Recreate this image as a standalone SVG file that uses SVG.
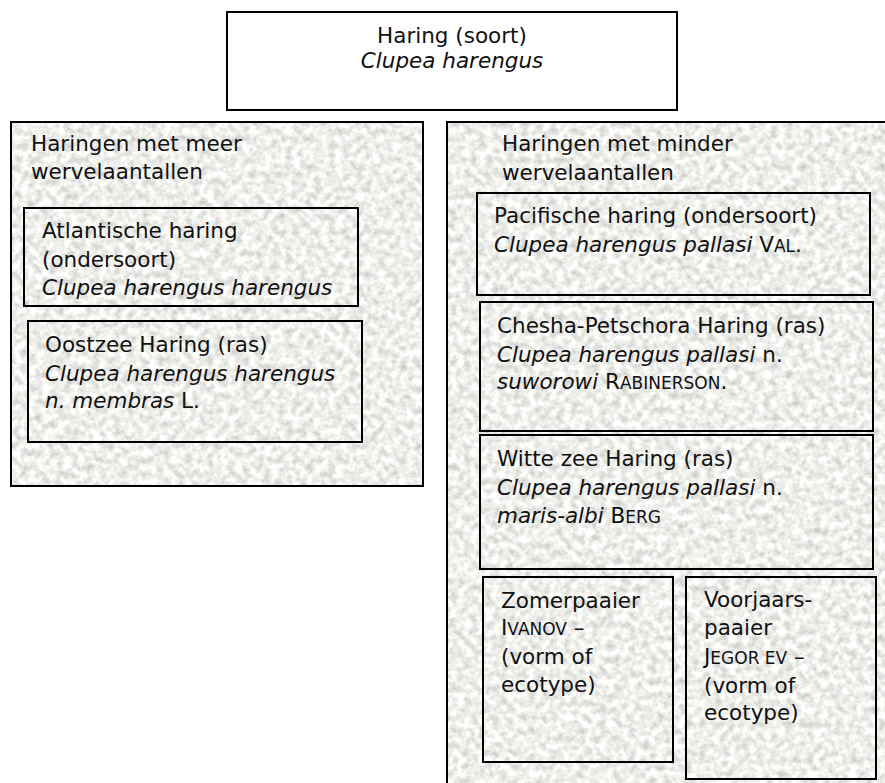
<svg xmlns="http://www.w3.org/2000/svg" width="885" height="783" viewBox="0 0 885 783">
<defs>
<style>
.t{font-family:"DejaVu Sans",Verdana,sans-serif;font-size:21.5px;fill:#111}
.i{font-style:italic}
.sc{font-size:17px}
.box{fill:none;stroke:#000;stroke-width:2}
.mid{text-anchor:middle}
</style>
<filter id="stone" x="0" y="0" width="100%" height="100%" color-interpolation-filters="sRGB">
<feTurbulence type="fractalNoise" baseFrequency="0.14" numOctaves="3" seed="7"/>
<feColorMatrix type="matrix" values="0.38 0 0 0 0.745  0.38 0 0 0 0.745  0.38 0 0 0 0.735  0 0 0 0 1"/>
</filter>
</defs>
<rect width="885" height="783" fill="#fff"/>

<g id="soort">
<rect class="box" x="227" y="12" width="450" height="98" fill="#fff"/>
<text class="t mid" x="452" y="43">Haring (soort)</text>
<text class="t mid i" x="452" y="68">Clupea harengus</text>
</g>

<g id="meer">
<rect x="11" y="122" width="412" height="364" filter="url(#stone)"/>
<rect class="box" x="11" y="122" width="412" height="364"/>
<text class="t" x="31" y="151">Haringen met meer</text>
<text class="t" x="31" y="179">wervelaantallen</text>
</g>

<g id="atlantische">
<rect class="box" x="24" y="208" width="334" height="98"/>
<text class="t" x="42" y="238">Atlantische haring</text>
<text class="t" x="42" y="267">(ondersoort)</text>
<text class="t i" x="42" y="295">Clupea harengus harengus</text>
</g>

<g id="oostzee">
<rect class="box" x="28" y="321" width="334" height="121"/>
<text class="t" x="45" y="352">Oostzee Haring (ras)</text>
<text class="t i" x="45" y="381">Clupea harengus harengus</text>
<text class="t" x="45" y="408"><tspan class="i">n. membras</tspan> L.</text>
</g>

<g id="minder">
<rect x="447" y="122" width="450" height="675" filter="url(#stone)"/>
<rect class="box" x="447" y="122" width="450" height="675"/>
<text class="t" x="502" y="151">Haringen met minder</text>
<text class="t" x="502" y="180">wervelaantallen</text>
</g>

<g id="pacifische">
<rect class="box" x="477" y="193" width="393" height="102"/>
<text class="t" x="494" y="223">Pacifische haring (ondersoort)</text>
<text class="t" x="494" y="252"><tspan class="i">Clupea harengus pallasi</tspan> V<tspan class="sc">AL</tspan>.</text>
</g>

<g id="chesha">
<rect class="box" x="480" y="302" width="393" height="129"/>
<text class="t" x="497" y="333">Chesha-Petschora Haring (ras)</text>
<text class="t" x="497" y="362"><tspan class="i">Clupea harengus pallasi</tspan> n.</text>
<text class="t" x="497" y="389"><tspan class="i">suworowi</tspan> R<tspan class="sc">ABINERSON</tspan>.</text>
</g>

<g id="witte">
<rect class="box" x="480" y="435" width="393" height="134"/>
<text class="t" x="497" y="466">Witte zee Haring (ras)</text>
<text class="t" x="497" y="495"><tspan class="i">Clupea harengus pallasi</tspan> n.</text>
<text class="t" x="497" y="523"><tspan class="i">maris-albi</tspan> B<tspan class="sc">ERG</tspan></text>
</g>

<g id="zomer">
<rect class="box" x="483" y="577" width="190" height="185"/>
<text class="t" x="501" y="608">Zomerpaaier</text>
<text class="t" x="501" y="635">I<tspan class="sc">VANOV</tspan> –</text>
<text class="t" x="501" y="664">(vorm of</text>
<text class="t" x="501" y="692">ecotype)</text>
</g>

<g id="voorjaar">
<rect class="box" x="686" y="577" width="190" height="202"/>
<text class="t" x="704" y="607">Voorjaars-</text>
<text class="t" x="704" y="635">paaier</text>
<text class="t" x="704" y="664">J<tspan class="sc">EGOR EV</tspan> –</text>
<text class="t" x="704" y="693">(vorm of</text>
<text class="t" x="704" y="720">ecotype)</text>
</g>

<g id="connectors"/>
</svg>
